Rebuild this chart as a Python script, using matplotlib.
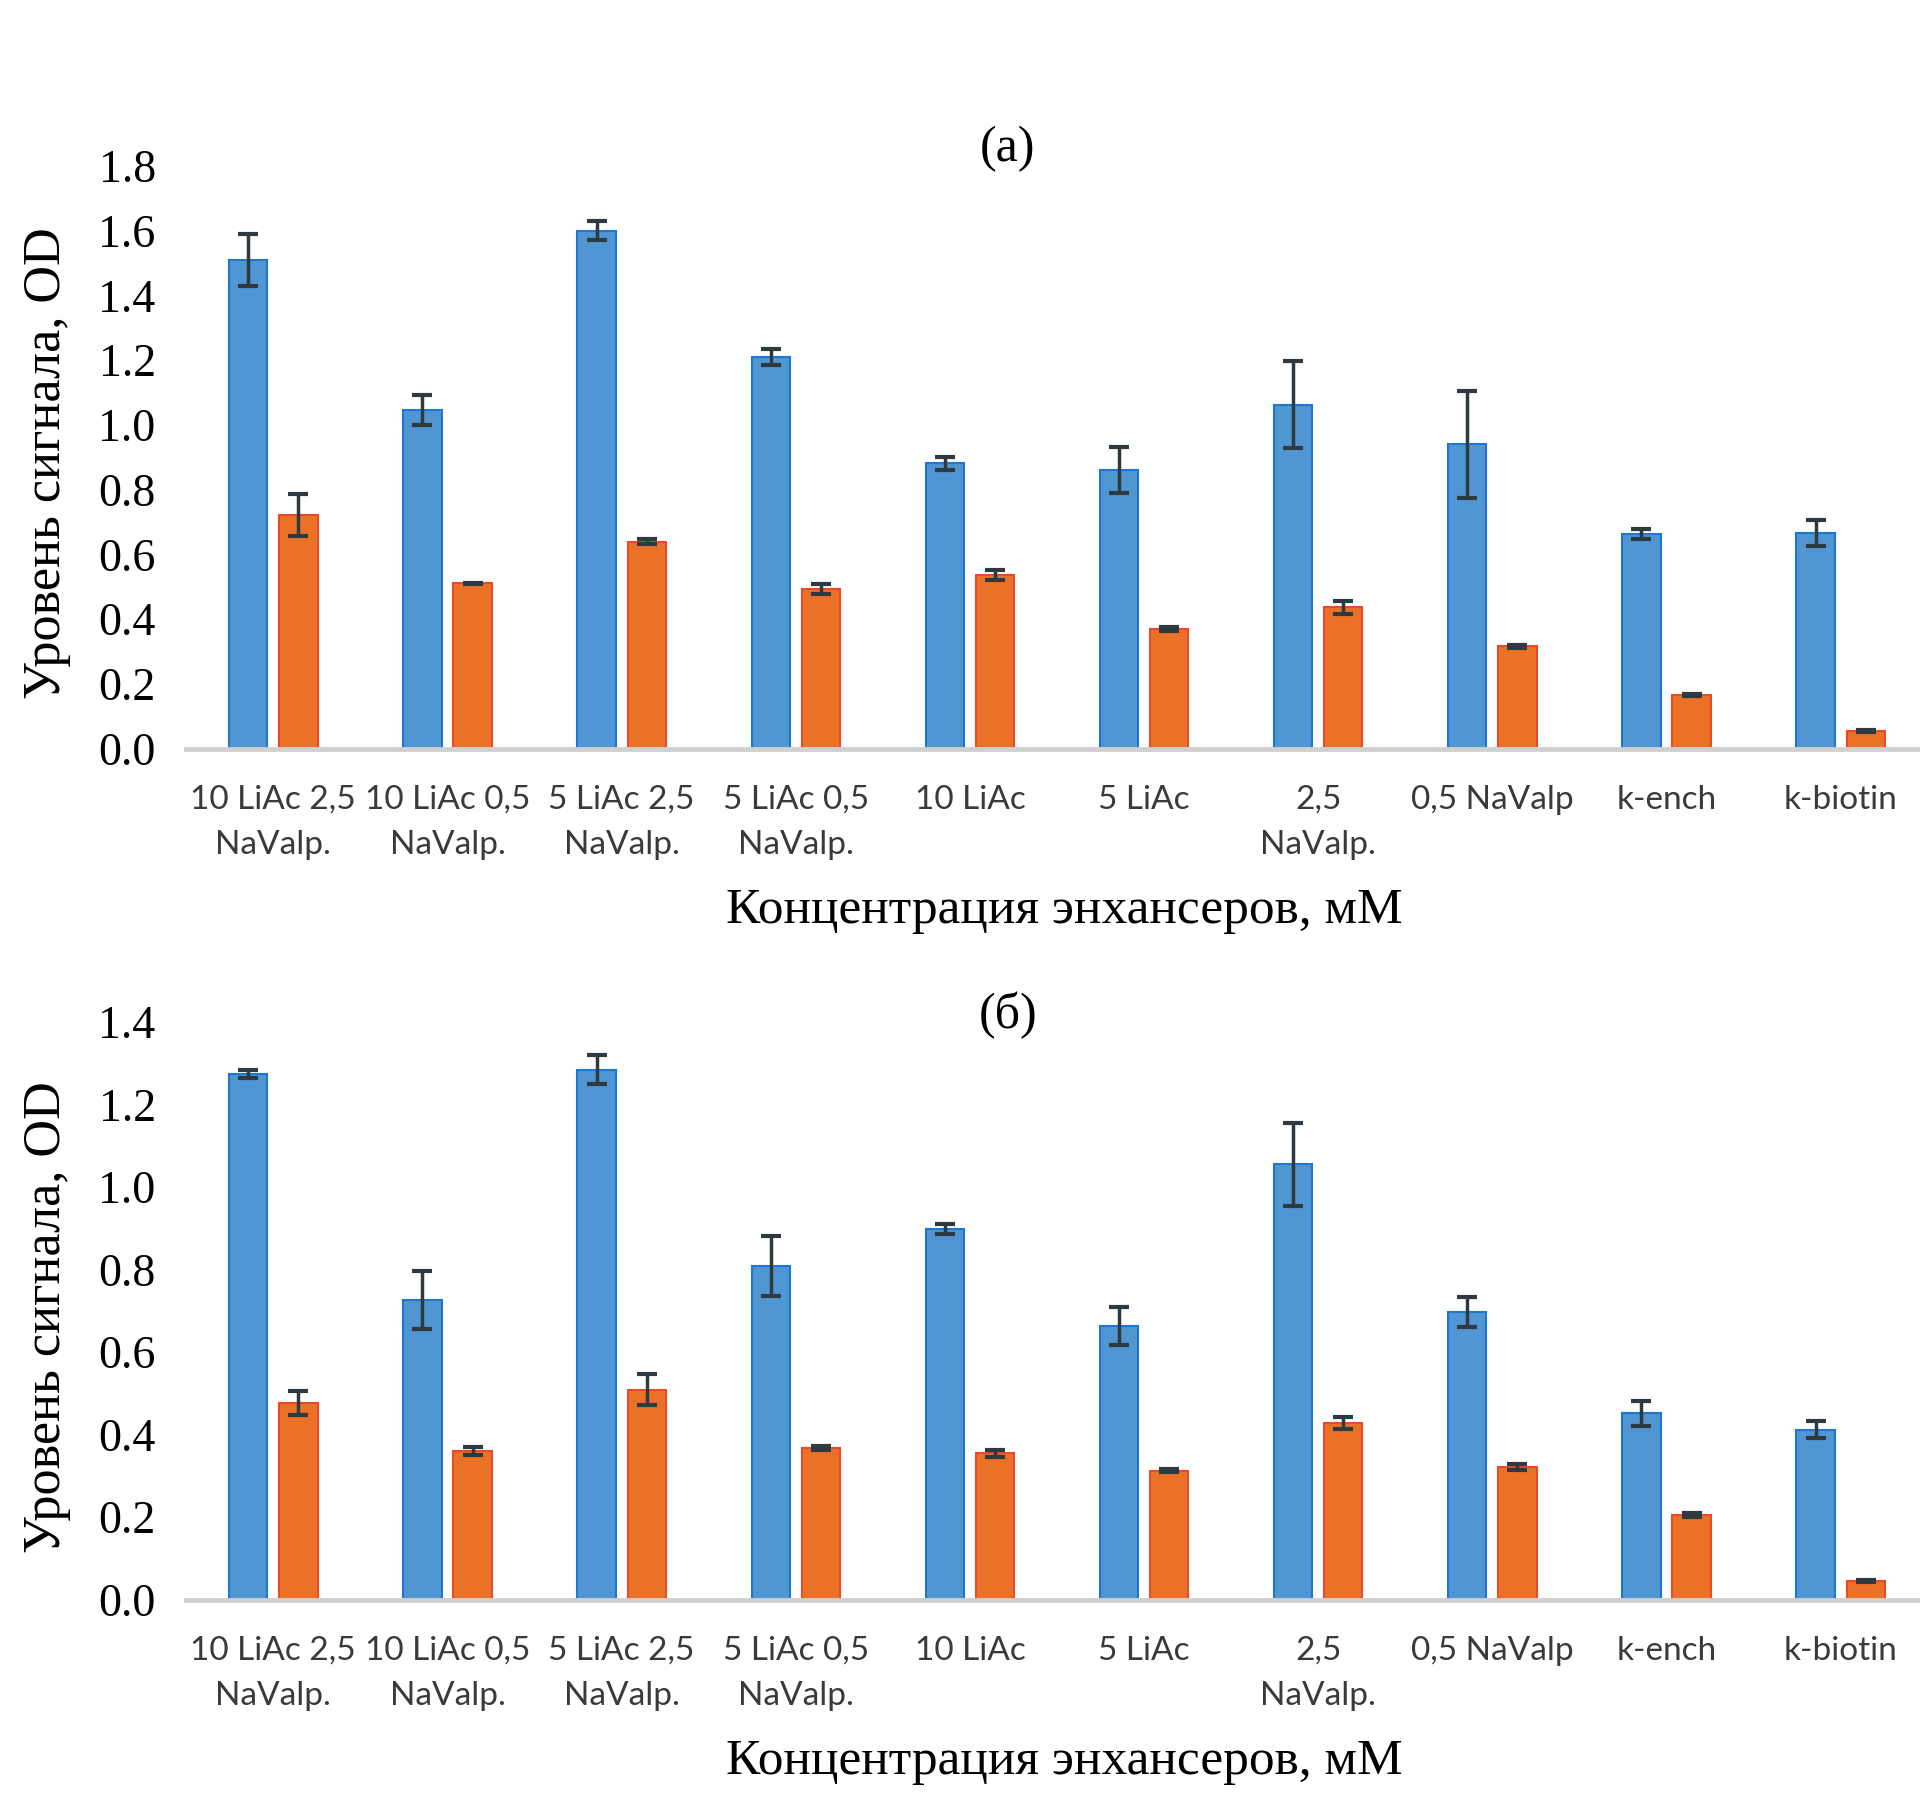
import numpy as np
import matplotlib.pyplot as plt

# group labels on the x axis
labels = ['10 LiAc 2,5\nNaValp.', '10 LiAc 0,5\nNaValp.', '5 LiAc 2,5\nNaValp.',
          '5 LiAc 0,5\nNaValp.', '10 LiAc', '5 LiAc', '2,5\nNaValp.',
          '0,5 NaValp', 'k-ench', 'k-biotin']

# panel (a)
a_blue = [1.51, 1.045, 1.60, 1.21, 0.882, 0.86, 1.062, 0.94, 0.663, 0.666]
a_blue_err = [0.08, 0.047, 0.03, 0.025, 0.02, 0.07, 0.135, 0.165, 0.015, 0.04]
a_orange = [0.722, 0.51, 0.639, 0.494, 0.536, 0.369, 0.437, 0.316, 0.167, 0.055]
a_orange_err = [0.065, 0.003, 0.008, 0.015, 0.015, 0.007, 0.02, 0.004, 0.003, 0.003]

# panel (б)
b_blue = [1.275, 0.727, 1.285, 0.808, 0.898, 0.664, 1.055, 0.697, 0.452, 0.412]
b_blue_err = [0.01, 0.07, 0.036, 0.073, 0.012, 0.046, 0.1, 0.036, 0.03, 0.021]
b_orange = [0.477, 0.36, 0.509, 0.368, 0.355, 0.313, 0.428, 0.322, 0.206, 0.045]
b_orange_err = [0.03, 0.01, 0.037, 0.005, 0.008, 0.003, 0.015, 0.008, 0.005, 0.002]

blue_fill, blue_edge = '#4f96d2', '#1f78cf'
orange_fill, orange_edge = '#eb7127', '#e84a2a'
err_col = '#2f3a40'

fig = plt.figure(figsize=(19.2, 18.1), dpi=100)


def panel(rect, blue, blue_err, orange, orange_err, ymax, title, title_y):
    ax = fig.add_axes(rect)
    x = np.arange(len(labels))
    w = 0.22
    off = 0.144
    ax.bar(x - off, blue, w, color=blue_fill, edgecolor=blue_edge, linewidth=1.5,
           yerr=blue_err, ecolor=err_col, capsize=7,
           error_kw=dict(elinewidth=2.5, capthick=3), zorder=2)
    ax.bar(x + off, orange, w, color=orange_fill, edgecolor=orange_edge, linewidth=1.5,
           yerr=orange_err, ecolor=err_col, capsize=7,
           error_kw=dict(elinewidth=2.5, capthick=3), zorder=2)
    ax.set_xlim(-0.5, len(labels) - 0.5)
    ax.set_ylim(0, ymax)
    ax.set_yticks(np.arange(0, ymax + 0.01, 0.2))
    ax.set_yticklabels(['%.1f' % v for v in np.arange(0, ymax + 0.01, 0.2)],
                       family='Liberation Serif', fontsize=33)
    ax.set_xticks(x)
    ax.set_xticklabels(labels, family='Lato', fontsize=24, color='#3a3a3a',
                       linespacing=1.65, va='top')
    ax.tick_params(axis='both', length=0)
    ax.tick_params(axis='y', pad=22)
    ax.tick_params(axis='x', pad=26)
    for s in ['top', 'right', 'left']:
        ax.spines[s].set_visible(False)
    ax.spines['bottom'].set_color('#d0d0d0')
    ax.spines['bottom'].set_linewidth(3.5)
    ax.set_ylabel('Уровень сигнала, OD', family='Liberation Serif', fontsize=37.5)
    ax.yaxis.set_label_coords(-0.066, 0.49)
    ax.set_xlabel('Концентрация энхансеров, мМ', family='Liberation Serif', fontsize=37)
    # label top about 139 px below the axis line
    ax.xaxis.set_label_coords(0.504, -139 / (rect[3] * 1810))
    fig.text(0.525, title_y, title, family='Liberation Serif', fontsize=36,
             ha='center', va='center')
    return ax


panel([0.097, 0.5864, 0.907, 0.322], a_blue, a_blue_err, a_orange, a_orange_err,
      1.8, '(а)', 0.918)
panel([0.097, 0.1162, 0.907, 0.3191], b_blue, b_blue_err, b_orange, b_orange_err,
      1.4, '(б)', 0.439)

fig.savefig('out.png', dpi=100, facecolor='white')
